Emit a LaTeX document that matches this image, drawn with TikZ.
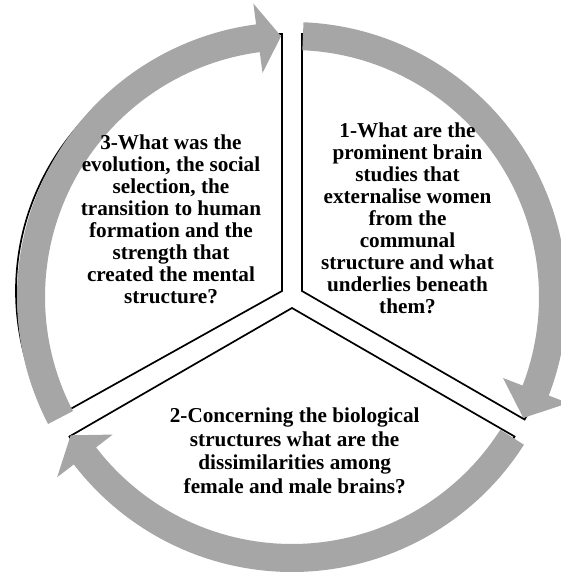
\documentclass[tikz,border=0pt]{standalone}
\usepackage{fontspec}
\setmainfont{Liberation Serif}
\usetikzlibrary{calc}
\definecolor{arrowgray}{HTML}{A6A6A6}
\tikzset{
  sector/.style={draw=black, line width=1.7pt, fill=white, line join=miter},
  band/.style={fill=arrowgray},
  qtext/.style={font=\fontsize{21.2}{22}\selectfont\bfseries, align=center, inner sep=0pt, anchor=base},
}
\newcommand{\cyclearrow}[3]{%
  \fill[band] ($(C)+(#1:275pt)$) arc[start angle=#1, end angle=#2, radius=275pt]
    -- ($(C)+(#2:296pt)$) -- ($(C)+(#3:261pt)$) -- ($(C)+(#2:226pt)$)
    -- ($(C)+(#2:247pt)$) arc[start angle=#2, end angle=#1, radius=247pt] -- cycle;}
\begin{document}
\begin{tikzpicture}[x=1pt,y=1pt]
\useasboundingbox (0,0) rectangle (560,-573);
\coordinate (C) at (292,-297);
\coordinate (L) at (282,-291);
\coordinate (R) at (302,-291);
\coordinate (B) at (292,-308);
\draw[sector] (L) -- ++(0,257) arc[start angle=90, end angle=210, x radius=266pt, y radius=257pt] -- cycle;
\draw[sector] (R) -- ++(0,257) arc[start angle=90, end angle=-30, radius=257pt] -- cycle;
\draw[sector] (B) -- ++(210:257pt) arc[start angle=210, end angle=330, radius=257pt] -- cycle;
\cyclearrow{87.6}{-21}{-27.6}
\cyclearrow{327.5}{217.5}{212}
\cyclearrow{207.5}{97.5}{92.4}
\node[qtext] (q3) at (171,-303.3) {3-What was the\\evolution, the social\\selection, the\\transition to human\\formation and the\\strength that\\created the mental\\structure?};
\node[qtext] (q1) at (407.5,-313.3) {1-What are the\\prominent brain\\studies that\\externalise women\\from the\\communal\\structure and what\\underlies beneath\\them?};
\node[qtext, font=\fontsize{21.2}{23.5}\selectfont\bfseries] (q2) at (294.7,-493.3) {2-Concerning the biological\\structures what are the\\dissimilarities among\\female and male brains?};
\end{tikzpicture}
\end{document}
